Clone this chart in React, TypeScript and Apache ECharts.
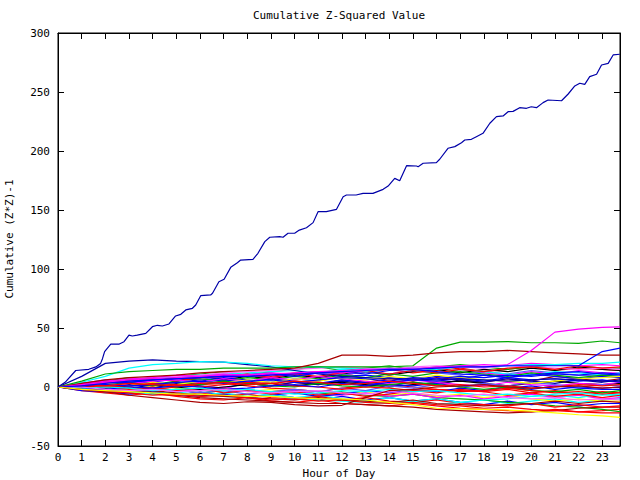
import React, { useEffect, useRef } from "react";
import * as echarts from "echarts";

const FONT = "'DejaVu Sans Mono', monospace";

// x ticks / sample hours for the bundle of small lines
const hours = [0, 1, 2, 3, 4, 5, 6, 7, 8, 9, 10, 11, 12, 13, 14, 15, 16, 17, 18, 19, 20, 21, 22, 23, 23.75];

// the large rising line (hour, value)
const bigHours = [0, 0.3, 0.75, 1.3, 1.6, 1.8, 1.88, 1.97, 2.09, 2.23, 2.59, 2.79, 3.0, 3.14, 3.35, 3.71, 3.99, 4.2, 4.41, 4.69, 4.97, 5.19, 5.4, 5.68, 5.82, 6.03, 6.45, 6.53, 6.8, 7.02, 7.3, 7.58, 7.72, 8.24, 8.45, 8.74, 8.95, 9.37, 9.51, 9.72, 10.0, 10.2, 10.5, 10.78, 10.99, 11.34, 11.77, 12.05, 12.19, 12.6, 12.89, 13.31, 13.74, 13.95, 14.23, 14.44, 14.73, 15.15, 15.22, 15.43, 15.99, 16.13, 16.48, 16.77, 17.05, 17.19, 17.47, 17.68, 17.96, 18.25, 18.53, 18.81, 19.02, 19.23, 19.51, 19.8, 20.0, 20.22, 20.5, 20.71, 21.28, 21.56, 21.84, 22.05, 22.26, 22.47, 22.76, 22.97, 23.25, 23.46, 23.74];
const bigValues = [0, 4, 14, 15, 17, 20, 24, 30, 33, 36.4, 36.4, 38.4, 44, 43.2, 44, 45.5, 51.1, 52.3, 51.7, 53.4, 60.2, 61.6, 65.3, 66.7, 69.5, 77.4, 78, 79.4, 89.2, 91.3, 101.4, 105.3, 107.6, 108.2, 113.3, 123.2, 126.9, 127.4, 126.9, 130.3, 130.3, 133, 135, 139.3, 148.6, 148.6, 150.6, 161.3, 162.7, 162.7, 164.1, 164.1, 167.5, 170.3, 176.8, 174.8, 187.6, 187.3, 186.7, 189.6, 190.1, 193, 202.3, 203.7, 207, 209.3, 209.9, 212.1, 215, 223.5, 229.1, 229.7, 233.3, 233.6, 236.7, 236.2, 237.5, 236.7, 241, 243.2, 242.6, 248.3, 255.1, 257.4, 256.5, 263, 265, 272.9, 274.3, 281.4, 282];

// small lines, one value per entry of `hours`
const navy2 = [0, 9, 20, 22, 23, 22, 21.5, 21, 19, 17, 14, 11, 9, 8, 7, 7, 6, 7, 6, 5, 6, 7, 6, 5, 5];
const cyanTop = [0, 4, 9, 16, 19, 20, 21.5, 21, 20, 18, 17, 17, 16, 15, 15, 16, 15, 17, 17, 18, 19, 19, 20, 20, 21];
const greenTop = [0, 5, 11, 13, 14, 15, 15, 16, 16, 16, 17, 17, 17, 17, 17, 18, 33, 38, 38, 38.5, 37.5, 37.5, 37, 39, 37.5];
const darkRedTop = [0, 3, 6, 8, 9, 10, 12, 13, 14, 15, 16, 20, 27, 27, 26, 27, 29, 30, 30, 31, 30, 29, 28, 27, 27];
const magentaTop = [0, 2, 4, 6, 7, 8, 9, 10, 10, 11, 12, 13, 14, 15, 15, 16, 16, 17, 17, 19, 31, 46.5, 49, 50.5, 51];
const blueLate = [0, 1, 3, 5, 6, 7, 8, 9, 9, 10, 11, 12, 13, 14, 15, 15, 16, 17, 17, 18, 18, 18, 18, 30, 33];
const darkRedLow = [0, -2, -4, -7, -9, -11, -13, -14, -12.5, -13, -15, -16, -15.5, -9, -3, -2, 0, 1, 2, 0, -1, 0, 1, -1, 0];
const yellowLow = [0, -2, -3, -4, -5, -6, -6, -7, -8, -8, -9, -10, -10, -11, -13, -15, -18, -18.5, -19, -19.5, -20.5, -22, -23.5, -24.5, -25.7];
const l9 = [0, 2, 4, 3, 6, 8, 6, 9, 11, 9, 12, 13, 10, 13, 15, 12, 14, 16, 13, 15, 17, 14, 16, 15, 14];
const l10 = [0, 3, 5, 8, 6, 9, 11, 13, 10, 13, 15, 17, 14, 16, 18, 15, 17, 19, 17, 15, 17, 19, 18, 16, 16];
const l11 = [0, -2, -4, -2, -5, -7, -4, -7, -9, -6, -9, -11, -8, -11, -9, -12, -10, -13, -15, -12, -15, -13, -16, -14, -14];
const l12 = [0, 3, 1, 5, 8, 5, 9, 7, 10, 8, 11, 13, 10, 13, 11, 14, 12, 15, 12, 10, 13, 11, 14, 12, 12];
const l13 = [0, -2, -5, -3, -6, -4, -7, -5, -8, -6, -9, -7, -10, -12, -9, -12, -10, -13, -11, -14, -12, -10, -13, -11, -10];
const l14 = [0, 2, 0, 3, 1, 4, 2, 5, 3, 1, 4, 2, 6, 4, 7, 5, 8, 6, 4, 7, 5, 9, 7, 5, 7];
const l15 = [0, 2, 5, 3, 6, 8, 9, 6, 9, 7, 10, 8, 11, 13, 10, 13, 15, 12, 15, 13, 16, 14, 17, 15, 14];
const l16 = [0, 2, 0, -2, 1, -1, -3, -1, -4, -2, -5, -3, -6, -4, -7, -5, -8, -6, -9, -7, -10, -12, -10, -12, -12];
const l17 = [0, -2, 0, 2, -1, 3, 1, -1, 3, 1, 4, 2, 5, 3, 1, 4, 2, 6, 4, 7, 5, 3, 6, 4, 6];
const l18 = [0, 3, 6, 4, 7, 9, 6, 9, 11, 12, 9, 12, 10, 13, 11, 14, 12, 10, 13, 11, 14, 12, 10, 9, 11];
const l19 = [0, -3, -5, -7, -5, -8, -10, -11, -9, -12, -13, -11, -14, -15, -16, -14, -16, -18, -19, -20, -21, -19, -21, -20, -19];
const l20 = [0, -2, -3, -1, -4, -2, -5, -3, -2, -5, -3, -6, -4, -7, -8, -6, -9, -10, -11, -13, -14, -16, -17, -19, -21];
const l21 = [0, 2, 3, 6, 4, 7, 5, 8, 6, 4, 7, 5, 9, 10, 8, 6, 9, 7, 10, 8, 11, 9, 7, 9, 8];
const l22 = [0, 1, -2, -3, -1, -4, -2, 0, -3, -5, -3, -6, -7, -5, -8, -6, -9, -7, -10, -8, -6, -9, -7, -10, -9];
const l23 = [0, 2, 4, 6, 7, 9, 10, 11, 12, 13, 14, 12, 15, 13, 16, 14, 12, 15, 13, 11, 10, 13, 12, 10, 12];
const l24 = [0, -1, -3, -5, -6, -7, -9, -10, -11, -12, -13, -14, -14, -15, -16, -17, -19, -20, -21, -22, -21, -20, -18, -17, -17];
const l25 = [0, 1, 2, 0, -2, 0, 2, 3, 1, -1, -2, -4, -1, 1, 2, 0, -2, -3, -4, -2, -5, -3, -6, -4, -5];
const l26 = [0, -3, -4, -6, -4, -6, -8, -6, -9, -7, -5, -8, -6, -3, -5, -2, -4, -1, -3, 0, -2, 1, -1, -2, -2];
const l27 = [0, 1, 3, 4, 2, 5, 7, 5, 8, 6, 9, 7, 10, 8, 11, 9, 12, 13, 11, 9, 12, 10, 8, 10, 9];
const l28 = [0, 2, 4, 6, 8, 9, 10, 12, 13, 14, 15, 16, 17, 16, 15, 17, 18, 17, 16, 18, 17, 16, 15, 16, 15];
const l29 = [0, -1, -3, -4, -6, -7, -5, -8, -6, -9, -10, -8, -11, -9, -12, -13, -11, -14, -15, -16, -14, -17, -15, -17, -16];
const l30 = [0, 1, -1, 1, 2, 0, -2, 0, 2, 3, 1, 3, 4, 2, 0, 2, 4, 5, 3, 1, 3, 5, 3, 2, 3];
const l31 = [0, 1, 2, 3, 4, 2, 4, 6, 4, 7, 5, 3, 6, 4, 2, 1, 3, 0, 2, -1, 1, -2, 0, -1, 0];
const l32 = [0, -1, -3, -4, -6, -4, -7, -8, -9, -7, -10, -11, -12, -13, -14, -12, -15, -13, -11, -10, -8, -7, -9, -6, -8];
const l33 = [0, 3, 4, 6, 7, 5, 8, 9, 11, 8, 11, 9, 12, 14, 11, 14, 12, 15, 13, 16, 17, 15, 18, 16, 17];
const l34 = [0, -1, -3, -4, -3, -5, -7, -8, -9, -10, -11, -9, -11, -12, -13, -11, -14, -15, -16, -15, -14, -12, -14, -12, -13];
const l35 = [0, 2, 0, 3, 5, 6, 4, 7, 5, 8, 6, 9, 7, 5, 3, 6, 4, 2, 1, 4, 2, 1, 3, 2, 4];
const l36 = [0, -1, -2, -4, -2, -3, -5, -3, -6, -4, -2, -4, -1, -3, 1, -1, 2, 0, 3, 1, 4, 2, 0, 2, 1];
const l37 = [0, 0, 2, 4, 1, 4, 2, 5, 3, 1, 0, 3, 1, 0, 2, 4, 2, 0, -2, 0, -3, -4, -2, -5, -3];
const l38 = [0, -1, 1, -2, 0, -3, -1, -5, -3, -6, -4, -7, -5, -8, -6, -3, -5, -2, -4, -7, -5, -8, -6, -9, -7];
const l39 = [0, 2, 3, 4, 6, 7, 8, 10, 9, 11, 9, 12, 13, 11, 14, 15, 13, 11, 10, 8, 10, 12, 13, 11, 10];
const l40 = [0, 1, 3, 1, 4, 2, 5, 3, 6, 4, 7, 5, 8, 6, 9, 7, 10, 8, 6, 5, 3, 5, 7, 8, 9];
const l41 = [0, 1, 0, 1, 3, 2, 0, 2, 4, 3, 1, 0, -2, 0, -1, -3, -2, -4, -3, -1, -3, -5, -4, -6, -5];
const l42 = [0, -1, -2, 0, -1, 1, 0, -2, -1, 1, 2, 0, 3, 1, 4, 6, 5, 7, 5, 8, 6, 7, 5, 6, 4];
const l43 = [0, 3, 5, 7, 8, 10, 9, 11, 10, 12, 11, 13, 12, 14, 16, 15, 17, 18, 19, 18, 20, 19, 18, 19, 18];
const l44 = [0, -2, -4, -5, -7, -6, -8, -7, -9, -11, -10, -12, -11, -13, -14, -13, -15, -16, -18, -17, -19, -20, -21, -22, -22];
const l45 = [0, 1, 2, 1, 2, 4, 5, 3, 5, 6, 4, 6, 8, 7, 5, 8, 7, 9, 8, 10, 9, 11, 10, 12, 11];
const l46 = [0, -1, 0, -1, -3, -2, -1, -3, -2, -4, -6, -5, -3, -4, -2, -4, -3, -5, -7, -6, -8, -6, -5, -7, -6];
const l47 = [0, 2, 1, 3, 2, 1, 3, 4, 2, 3, 5, 4, 2, 3, 5, 3, 1, 2, 0, 1, -1, 0, 2, 1, 2];
const l48 = [0, 0, -2, -3, -2, -4, -3, -2, -4, -5, -4, -3, -5, -6, -4, -5, -7, -8, -6, -9, -10, -9, -11, -10, -11];

const xTickMin = 0;
const xTickMax = 23.75;
const yTickMin = -50;
const yTickMax = 300;

const RED = "#ff0000";
const GREEN = "#00a800";
const BLUE = "#0000ff";
const MAGENTA = "#ff00ff";
const CYAN = "#00ffff";
const DARKRED = "#a80000";
const BLACK = "#000000";
const YELLOW = "#ffff00";
const NAVY = "#0000a8";
const LIGHTBLUE = "#5a5aff";
const PINK = "#ff66ff";

const smallLines: [number[], string][] = [
  [l9, RED], [l10, GREEN], [l11, BLUE], [l12, MAGENTA], [l13, CYAN], [l14, DARKRED],
  [l15, BLACK], [l16, YELLOW], [l17, NAVY], [l18, LIGHTBLUE], [l19, RED], [l20, GREEN],
  [l21, BLUE], [l22, MAGENTA], [l23, CYAN], [l24, DARKRED], [l25, RED], [l26, BLUE],
  [l27, GREEN], [l28, PINK], [l29, RED], [l30, BLACK], [l31, BLUE], [l32, CYAN],
  [l33, RED], [l34, DARKRED], [l35, MAGENTA], [l36, LIGHTBLUE], [l37, GREEN], [l38, RED],
  [l39, BLUE], [l40, YELLOW], [l41, RED], [l42, BLUE], [l43, MAGENTA], [l44, RED],
  [l45, BLUE], [l46, CYAN], [l47, RED], [l48, PINK],
  [navy2, NAVY], [cyanTop, CYAN], [greenTop, GREEN], [darkRedTop, DARKRED],
  [magentaTop, MAGENTA], [blueLate, BLUE], [darkRedLow, DARKRED], [yellowLow, YELLOW],
];

export default function App() {
  const ref = useRef<HTMLDivElement>(null);
  useEffect(() => {
    if (!ref.current) return;
    const chart = echarts.init(ref.current, undefined, { renderer: "svg" });
    const lineSeries = (data: number[][], color: string) => ({
      type: "line",
      data,
      symbol: "none",
      silent: true,
      lineStyle: { color, width: 1.2 },
      itemStyle: { color },
      emphasis: { disabled: true },
    });
    const series: any[] = smallLines.map(([vals, color]) =>
      lineSeries(hours.map((h, i) => [h, vals[i]]), color)
    );
    series.push(lineSeries(bigHours.map((h, i) => [h, bigValues[i]]), NAVY));
    // empty series so the mirrored top / right axes are drawn
    series.push({ type: "line", data: [], xAxisIndex: 1, yAxisIndex: 1, symbol: "none", silent: true });

    const axisCommon = {
      show: true,
      axisLine: { show: true, onZero: false, lineStyle: { color: "#000", width: 1 } },
      axisTick: { show: true, inside: true, length: 6, lineStyle: { color: "#000", width: 1 } },
      splitLine: { show: false },
    };
    const labelStyle = { color: "#000", fontFamily: FONT, fontSize: 11 };

    chart.setOption({
      animation: false,
      backgroundColor: "#fff",
      grid: { left: 58, right: 20, top: 33, bottom: 34, containLabel: false, show: true, borderColor: "#000", borderWidth: 1, backgroundColor: "transparent" },
      xAxis: [
        {
          type: "value", min: xTickMin, max: xTickMax, interval: 1, position: "bottom",
          ...axisCommon,
          axisLabel: {
            ...labelStyle, margin: 6,
            formatter: (v: number) => (Number.isInteger(v) ? String(v) : ""),
          },
        },
        {
          type: "value", min: xTickMin, max: xTickMax, interval: 1, position: "top",
          ...axisCommon, axisLabel: { show: false },
        },
      ],
      yAxis: [
        {
          type: "value", min: yTickMin, max: yTickMax, interval: 50, position: "left",
          ...axisCommon, axisLabel: { ...labelStyle, margin: 8 },
        },
        {
          type: "value", min: yTickMin, max: yTickMax, interval: 50, position: "right",
          ...axisCommon, axisLabel: { show: false },
        },
      ],
      graphic: [
        {
          type: "text", x: 339, y: 15,
          style: { text: "Cumulative Z-Squared Value", fill: "#000", font: `11px ${FONT}`, textAlign: "center", textVerticalAlign: "middle" },
        },
        {
          type: "text", x: 339, y: 473,
          style: { text: "Hour of Day", fill: "#000", font: `11px ${FONT}`, textAlign: "center", textVerticalAlign: "middle" },
        },
        {
          type: "text", x: 9, y: 239, rotation: Math.PI / 2,
          style: { text: "Cumulative (Z*Z)-1", fill: "#000", font: `11px ${FONT}`, textAlign: "center", textVerticalAlign: "middle" },
        },
      ],
      series,
    });
    return () => chart.dispose();
  }, []);
  return <div ref={ref} style={{ width: 640, height: 480, position: "absolute", left: 0, top: 0 }} />;
}
